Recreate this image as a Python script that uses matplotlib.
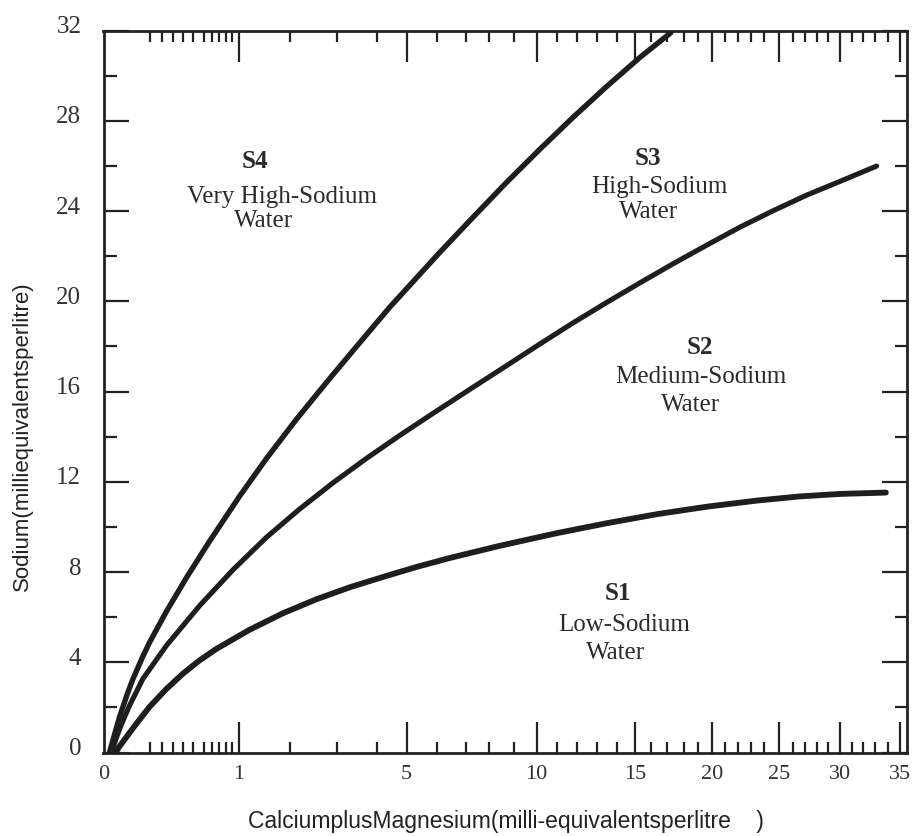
import numpy as np
import matplotlib
matplotlib.use("Agg")
import matplotlib.pyplot as plt
from matplotlib.transforms import ScaledTranslation

# ---------------- data ----------------
x_tick_values = [0, 1, 5, 10, 15, 20, 25, 30, 35]
x_tick_labels = ["0", "1", "5", "10", "15", "20", "25", "30", "35"]
x_minor_values = [0.34, 0.43, 0.51, 0.59, 0.66, 0.74, 0.80, 0.85, 0.90, 0.95,
                  2, 3, 4, 6, 7, 8, 9, 11, 12, 13, 14, 16, 17, 18, 19,
                  21, 22, 23, 24, 26, 27, 28, 29, 31, 32, 33, 34]
y_tick_values = [0, 4, 8, 12, 16, 20, 24, 28, 32]
y_tick_labels = ["0", "4", "8", "12", "16", "20", "24", "28", "32"]
y_minor_values = [2, 6, 10, 14, 18, 22, 26, 30]

# S3 / S4 boundary
top_x = [0.044, 0.069, 0.118, 0.177, 0.216, 0.288, 0.339, 0.463, 0.610, 0.782,
         1.010, 1.539, 2.141, 2.842, 3.494, 4.433, 6.102, 7.296, 8.702, 10.146,
         11.79, 13.46, 15.29, 17.235]
top_y = [0.0, 0.53, 1.57, 2.62, 3.24, 4.23, 4.87, 6.24, 7.73, 9.36,
         11.36, 13.02, 14.76, 16.57, 18.00, 19.73, 22.16, 23.72, 25.26, 26.73,
         28.15, 29.51, 30.80, 31.90]
# S2 / S3 boundary
mid_x = [0.059, 0.094, 0.133, 0.192, 0.290, 0.463, 0.708, 0.954, 1.539, 2.211,
         2.912, 3.739, 4.767, 5.877, 7.152, 8.702, 10.146, 11.79, 13.46, 15.29,
         17.37, 19.586, 22.127, 24.6, 27.145, 30.0, 33.134]
mid_y = [0.0, 0.64, 1.26, 2.08, 3.26, 4.73, 6.50, 8.09, 9.53, 10.79,
         11.95, 13.03, 14.05, 15.03, 16.09, 17.14, 18.10, 19.04, 19.94, 20.81,
         21.66, 22.48, 23.28, 24.01, 24.70, 25.31, 25.99]
# S1 / S2 boundary
low_x = [0.089, 0.118, 0.229, 0.339, 0.463, 0.585, 0.708, 0.832, 1.208, 1.867,
         2.562, 3.316, 4.21, 5.32, 6.44, 8.429, 11.025, 13.525, 16.44, 19.679,
         23.5, 26.58, 30.0, 33.866]
low_y = [0.0, 0.27, 1.17, 2.02, 2.81, 3.49, 4.08, 4.59, 5.44, 6.17,
         6.79, 7.32, 7.78, 8.22, 8.62, 9.16, 9.73, 10.17, 10.57, 10.90,
         11.17, 11.35, 11.46, 11.52]

# --------------- irregular (hand-ruled) x scale ---------------
scale_vals = np.arange(0, 36, dtype=float)
scale_pos = np.array([104, 239.5, 290, 337.5, 377, 407, 437, 466.5, 489.5, 514,
                      537, 557.5, 577.5, 597.5, 617.5, 635.5, 651, 667, 684, 698.5,
                      712.5, 725, 738.3, 751.7, 764.3, 779.3, 793, 805, 816.7, 828.3,
                      840, 851.7, 863.3, 875, 887.7, 900.5])
_s0 = (scale_pos[1] - scale_pos[0]) / (scale_vals[1] - scale_vals[0])
_s1 = (scale_pos[-1] - scale_pos[-2]) / (scale_vals[-1] - scale_vals[-2])


def fwd(x):
    x = np.asarray(x, dtype=float)
    y = np.interp(x, scale_vals, scale_pos)
    y = np.where(x < scale_vals[0], scale_pos[0] + (x - scale_vals[0]) * _s0, y)
    y = np.where(x > scale_vals[-1], scale_pos[-1] + (x - scale_vals[-1]) * _s1, y)
    return y


def inv(p):
    p = np.asarray(p, dtype=float)
    x = np.interp(p, scale_pos, scale_vals)
    x = np.where(p < scale_pos[0], scale_vals[0] + (p - scale_pos[0]) / _s0, x)
    x = np.where(p > scale_pos[-1], scale_vals[-1] + (p - scale_pos[-1]) / _s1, x)
    return x


# ---------------- figure ----------------
W, H = 917, 837
fig = plt.figure(figsize=(W / 100, H / 100), dpi=100)
ax = fig.add_axes([103.5 / W, 1 - 753.5 / H, 803 / W, 722 / H])
ax.set_xscale("function", functions=(fwd, inv))
ax.set_xlim(0, 35.48)
ax.set_ylim(0, 32)

line_col = "#1e1e1e"
for xs, ys, lw in ((top_x, top_y, 3.9), (mid_x, mid_y, 3.7), (low_x, low_y, 4.2)):
    ax.plot(xs, ys, color=line_col, lw=lw, solid_capstyle="round",
            solid_joinstyle="round", zorder=3)

for s in ax.spines.values():
    s.set_linewidth(2.0)
    s.set_color("#222222")

ax.set_xticks(x_tick_values)
ax.set_xticklabels(x_tick_labels)
ax.set_xticks(x_minor_values, minor=True)
ax.set_yticks(y_tick_values)
ax.set_yticklabels(y_tick_labels)
ax.set_yticks(y_minor_values, minor=True)

tick_col = "#222222"
ax.tick_params(axis="x", which="major", direction="in", length=22, width=1.6,
               top=True, bottom=True, color=tick_col, pad=8, labelsize=16,
               labelcolor="#333333")
ax.tick_params(axis="x", which="minor", direction="in", length=8, width=1.6,
               top=True, bottom=True, color=tick_col)
ax.tick_params(axis="y", which="major", direction="in", length=18, width=1.6,
               left=True, right=True, color=tick_col, pad=16, labelsize=18,
               labelcolor="#333333")
ax.tick_params(axis="y", which="minor", direction="in", length=9, width=1.6,
               left=True, right=True, color=tick_col)

# the 0 tick coincides with the frame: hide its tick marks
t0 = ax.xaxis.get_major_ticks()[0]
t0.tick1line.set_visible(False)
t0.tick2line.set_visible(False)

for lab in ax.get_xticklabels() + ax.get_yticklabels():
    lab.set_fontfamily("Liberation Serif")

offset = ScaledTranslation(0, 5 / 72, fig.dpi_scale_trans)
for lab in ax.get_yticklabels():
    lab.set_transform(lab.get_transform() + offset)

# axis titles
fig.text(22 / W, 1 - 436 / H, "Sodium(milliequivalentsperlitre)", rotation=90,
         ha="center", va="center", fontsize=16, family="Liberation Sans",
         color="#222222")
fig.text(506 / W, 1 - 822 / H, "CalciumplusMagnesium(milli-equivalentsperlitre    )",
         ha="center", va="center", fontsize=16.5, family="Liberation Sans",
         color="#222222")

# region labels
region_labels = [
    ("S4", 0.1887, 0.8105, True),
    ("Very High-Sodium", 0.2229, 0.7620, False),
    ("Water", 0.1993, 0.7296, False),
    ("S3", 0.6781, 0.8151, True),
    ("High-Sodium", 0.6918, 0.7767, False),
    ("Water", 0.6793, 0.7413, False),
    ("S2", 0.7429, 0.5533, True),
    ("Medium-Sodium", 0.7441, 0.5127, False),
    ("Water", 0.7316, 0.4748, False),
    ("S1", 0.6401, 0.2130, True),
    ("Low-Sodium", 0.6482, 0.1693, False),
    ("Water", 0.6382, 0.1313, False),
]
for txt, fx, fy, bold in region_labels:
    ax.text(fx, fy, txt, transform=ax.transAxes, ha="center", va="baseline",
            fontsize=18 if bold else 18, family="Liberation Serif",
            fontweight="bold" if bold else "normal", color="#2a2a2a")

fig.savefig("out.png", dpi=100, facecolor="white")
